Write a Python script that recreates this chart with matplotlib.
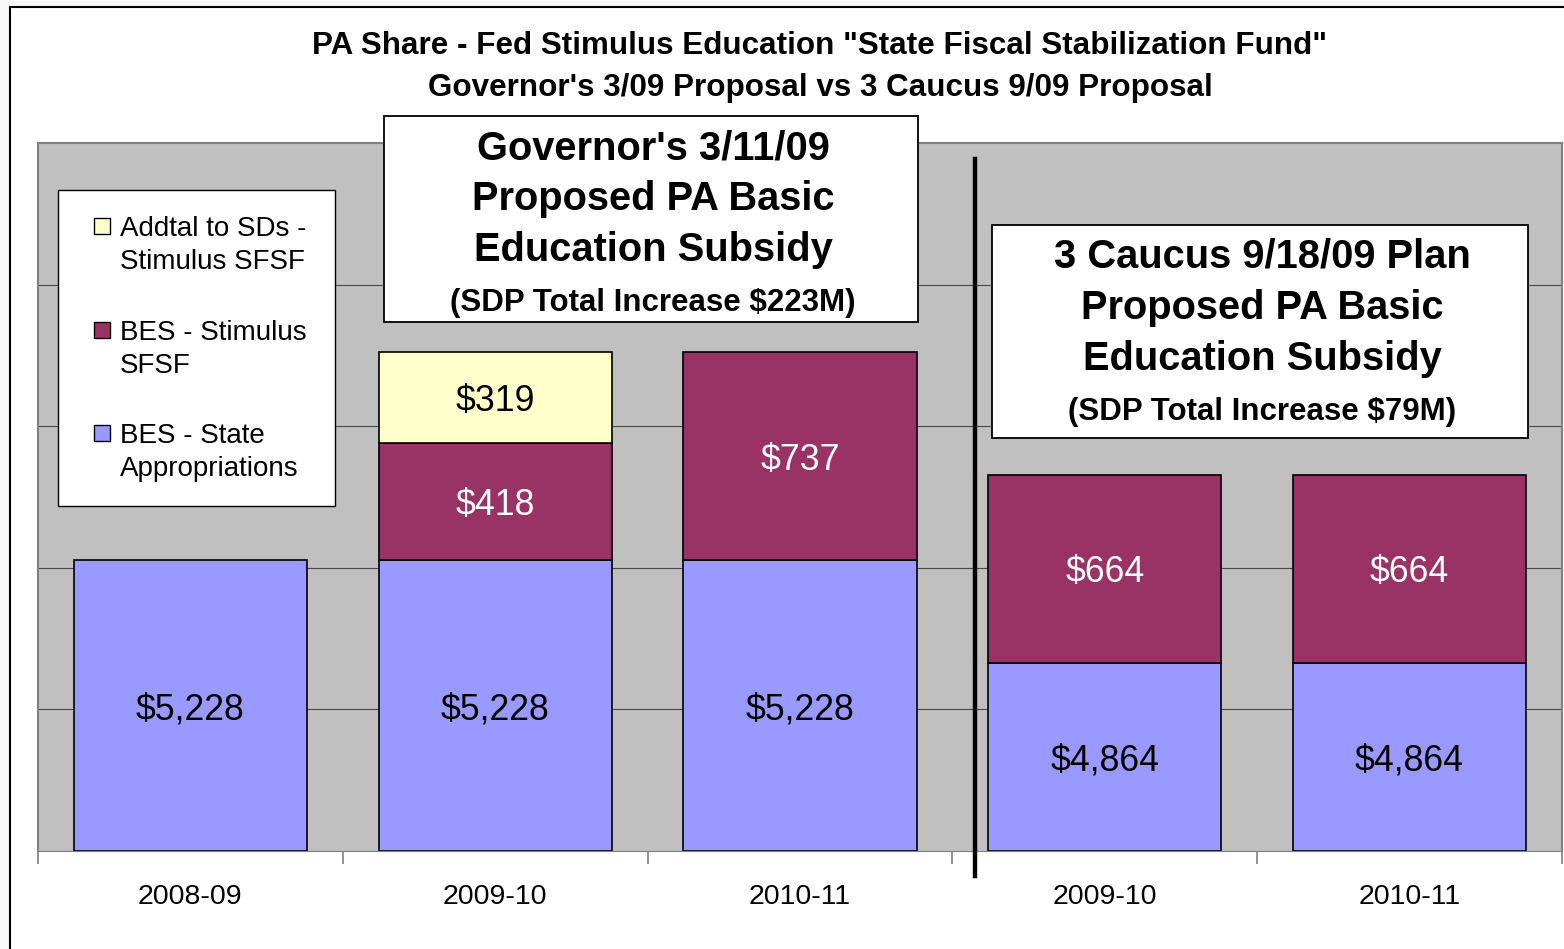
import matplotlib
matplotlib.use("Agg")
import matplotlib.pyplot as plt
from matplotlib.patches import Rectangle
from matplotlib.lines import Line2D
import matplotlib.transforms as mtransforms

plt.rcParams['font.family'] = ['Liberation Sans', 'DejaVu Sans']

# data (bar heights are in the chart's own axis units, labels as printed)
categories = ['2008-09', '2009-10', '2010-11', '2009-10', '2010-11']
state_height = [2.055, 2.055, 2.055, 1.328, 1.328]
stim_height = [0.0, 0.826, 1.469, 1.328, 1.328]
addtl_height = [0.0, 0.643, 0.0, 0.0, 0.0]
state_labels = ['$5,228', '$5,228', '$5,228', '$4,864', '$4,864']
stim_labels = ['', '$418', '$737', '$664', '$664']
addtl_labels = ['', '$319', '', '', '']
series_names = ['Addtal to SDs -\nStimulus SFSF', 'BES - Stimulus\nSFSF',
                'BES - State\nAppropriations']

c_state = '#9999FF'
c_stim = '#993366'
c_addtl = '#FFFFCC'

W, H = 1564, 949
fig = plt.figure(figsize=(W / 100, H / 100), dpi=100)
fig.patch.set_facecolor('#f8f8fa')


def fx(x):
    return x / W


def fy(y):
    return 1 - y / H


# outer chart frame
fig.add_artist(Rectangle((fx(10), fy(960)), fx(1600) - fx(10), fy(7) - fy(960),
                         transform=fig.transFigure, facecolor='white',
                         edgecolor='black', lw=1.5, zorder=0))

ax = fig.add_axes([fx(38), fy(851), fx(1562) - fx(38), fy(143) - fy(851)])
ax.set_facecolor('#c0c0c0')
ax.set_xlim(-0.5, 4.5)
ax.set_ylim(0, 5)
ax.set_yticks([1, 2, 3, 4])
ax.yaxis.grid(True, color='#4a4a4a', lw=0.8)
ax.set_axisbelow(True)
ax.tick_params(axis='y', left=False, labelleft=False)
for s in ['top', 'left', 'right']:
    ax.spines[s].set_color('#808080')
    ax.spines[s].set_linewidth(1.5)
ax.spines['bottom'].set_color('#808080')

x = list(range(len(categories)))
bw = 0.765
ax.bar(x, state_height, bw, color=c_state, edgecolor='black', lw=1.2, zorder=2)
base2 = state_height
ax.bar(x, stim_height, bw, bottom=base2, color=c_stim, edgecolor='black', lw=1.2,
       zorder=2)
base3 = [a + b for a, b in zip(state_height, stim_height)]
ax.bar(x, addtl_height, bw, bottom=base3, color=c_addtl, edgecolor='black', lw=1.2,
       zorder=2)
# hide empty segments
for p in ax.patches:
    if p.get_height() == 0:
        p.set_visible(False)

for i in x:
    ax.text(i, state_height[i] / 2, state_labels[i], ha='center',
            va='center_baseline', fontsize=25.7, color='black', zorder=3)
    if stim_labels[i]:
        ax.text(i, base2[i] + stim_height[i] / 2, stim_labels[i], ha='center',
                va='center_baseline', fontsize=25.7, color='white', zorder=3)
    if addtl_labels[i]:
        ax.text(i, base3[i] + addtl_height[i] / 2, addtl_labels[i], ha='center',
                va='center_baseline', fontsize=25.7, color='black', zorder=3)

ax.set_xticks(x)
ax.set_xticklabels(categories, fontsize=20.5)
ax.set_xticks([-0.5, 0.5, 1.5, 2.5, 3.5, 4.5], minor=True)
ax.tick_params(axis='x', which='major', length=0, pad=24)
ax.tick_params(axis='x', which='minor', length=9, color='#808080', width=1.2)

# divider between the two proposals
trans = mtransforms.blended_transform_factory(ax.transData, ax.transAxes)
ax.add_line(Line2D([2.574, 2.574], [-0.035, 0.978], transform=trans, color='black',
                   lw=3.2, clip_on=False, zorder=5))

# title
fig.text(fx(820), fy(46), 'PA Share - Fed Stimulus Education "State Fiscal Stabilization Fund"',
         ha='center', va='center', fontsize=22.6, fontweight='bold')
fig.text(fx(820), fy(88), "Governor's 3/09 Proposal vs 3 Caucus 9/09 Proposal",
         ha='center', va='center', fontsize=22.6, fontweight='bold')


def note_box(x0, y0, x1, y1, lines, ys, cx):
    fig.add_artist(Rectangle((fx(x0), fy(y1)), fx(x1) - fx(x0), fy(y0) - fy(y1),
                             transform=fig.transFigure, facecolor='white',
                             edgecolor='black', lw=1.3, zorder=6))
    for i, (t, yy) in enumerate(zip(lines, ys)):
        fs = 22.5 if i == len(lines) - 1 else 28.7
        fig.text(fx(cx), fy(yy), t, ha='center', va='center', fontsize=fs,
                 fontweight='bold', zorder=7)


note_box(384, 116, 918, 322,
         ["Governor's 3/11/09", 'Proposed PA Basic', 'Education Subsidy',
          '(SDP Total Increase $223M)'],
         [148, 199, 250, 303], 653)
note_box(992, 225, 1528, 438,
         ['3 Caucus 9/18/09 Plan', 'Proposed PA Basic', 'Education Subsidy',
          '(SDP Total Increase $79M)'],
         [256, 308, 359, 412], 1262)

# legend
fig.add_artist(Rectangle((fx(58), fy(506)), fx(335) - fx(58), fy(190) - fy(506),
                         transform=fig.transFigure, facecolor='white',
                         edgecolor='black', lw=1.0, zorder=6))
leg_colors = [c_addtl, c_stim, c_state]
leg_y = [226, 330, 433]
for name, col, yy in zip(series_names, leg_colors, leg_y):
    fig.add_artist(Rectangle((fx(94), fy(yy + 8)), fx(16), fy(0) - fy(16),
                             transform=fig.transFigure, facecolor=col,
                             edgecolor='black', lw=1.0, zorder=7))
    fig.text(fx(120), fy(yy - 10), name, ha='left', va='top', fontsize=20,
             linespacing=1.33, zorder=7)

fig.savefig('out.png', dpi=100, facecolor=fig.get_facecolor())
